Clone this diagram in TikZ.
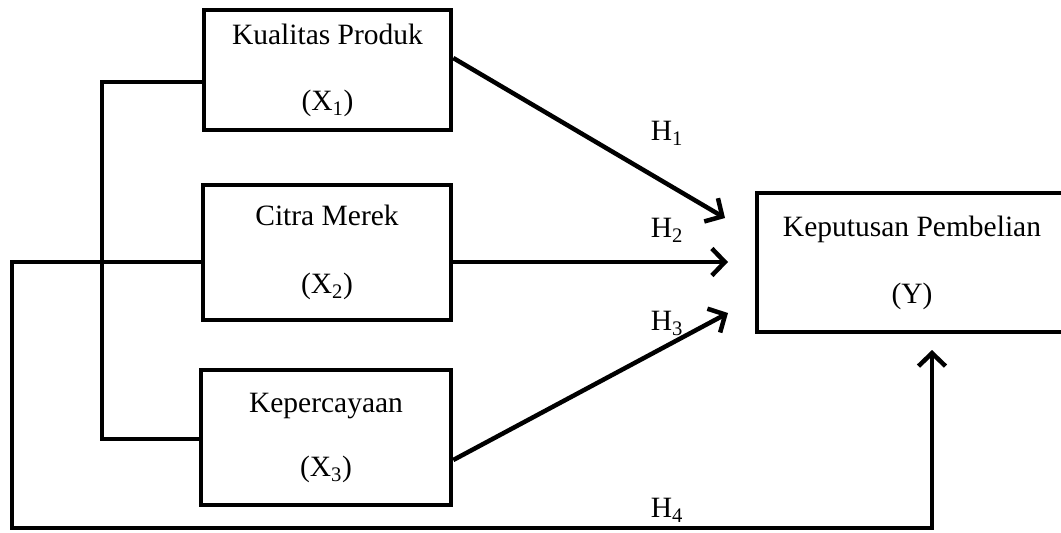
\documentclass[tikz,border=0pt]{standalone}
\usepackage{fontspec}
\setmainfont{Liberation Serif}
\usetikzlibrary{arrows.meta}
\begin{document}
\begin{tikzpicture}[x=1pt,y=-1pt,
  box/.style={draw, line width=4.5pt, align=center, inner sep=0pt, font=\fontsize{29.5}{35}\selectfont},
  lab/.style={font=\fontsize{29.5}{35}\selectfont, inner sep=0pt, anchor=base},
  conn/.style={line width=4.5pt},
  arr/.style={line width=4.5pt, -{Straight Barb[length=13pt,width=27pt]}}]
\useasboundingbox (0,0) rectangle (1061,533);
\node[box, minimum width=247pt, minimum height=120pt] (X1) at (327.5,70) {Kualitas Produk\\[31pt](X\textsubscript{1})};
\node[box, minimum width=248pt, minimum height=135pt] (X2) at (327,252.5) {Citra Merek\\[33pt](X\textsubscript{2})};
\node[box, minimum width=250pt, minimum height=135pt] (X3) at (326,437.5) {Kepercayaan\\[29pt](X\textsubscript{3})};
\node[box, minimum width=310pt, minimum height=139pt] (Y) at (912,262.5) {Keputusan Pembelian\\[32pt](Y)};
% bracket
\coordinate (b1) at (102,82);
\coordinate (b3) at (102,439);
\draw[conn] (X1.west |- b1) -- (b1) -- (b3) -- (X3.west |- b3);
% H4 path
\coordinate (c1) at (12,262);
\coordinate (c2) at (12,528);
\coordinate (c3) at (932,528);
\coordinate (t4) at (932,350);
\draw[arr] (X2.west |- c1) -- (c1) -- (c2) -- (c3) -- (t4);
% arrows
\coordinate (t1) at (725,218);
\coordinate (t2) at (728,262);
\coordinate (t3) at (728,313);
\draw[arr] ([yshift=12pt]X1.east) -- (t1);
\draw[arr] (X2.east |- t2) -- (t2);
\draw[arr] ([yshift=-22.5pt]X3.east) -- (t3);
% labels
\node[lab] (h1) at (667,140) {H\textsubscript{1}};
\node[lab] (h2) at (667,237) {H\textsubscript{2}};
\node[lab] (h3) at (667,330) {H\textsubscript{3}};
\node[lab] (h4) at (667,517) {H\textsubscript{4}};
\end{tikzpicture}
\end{document}
